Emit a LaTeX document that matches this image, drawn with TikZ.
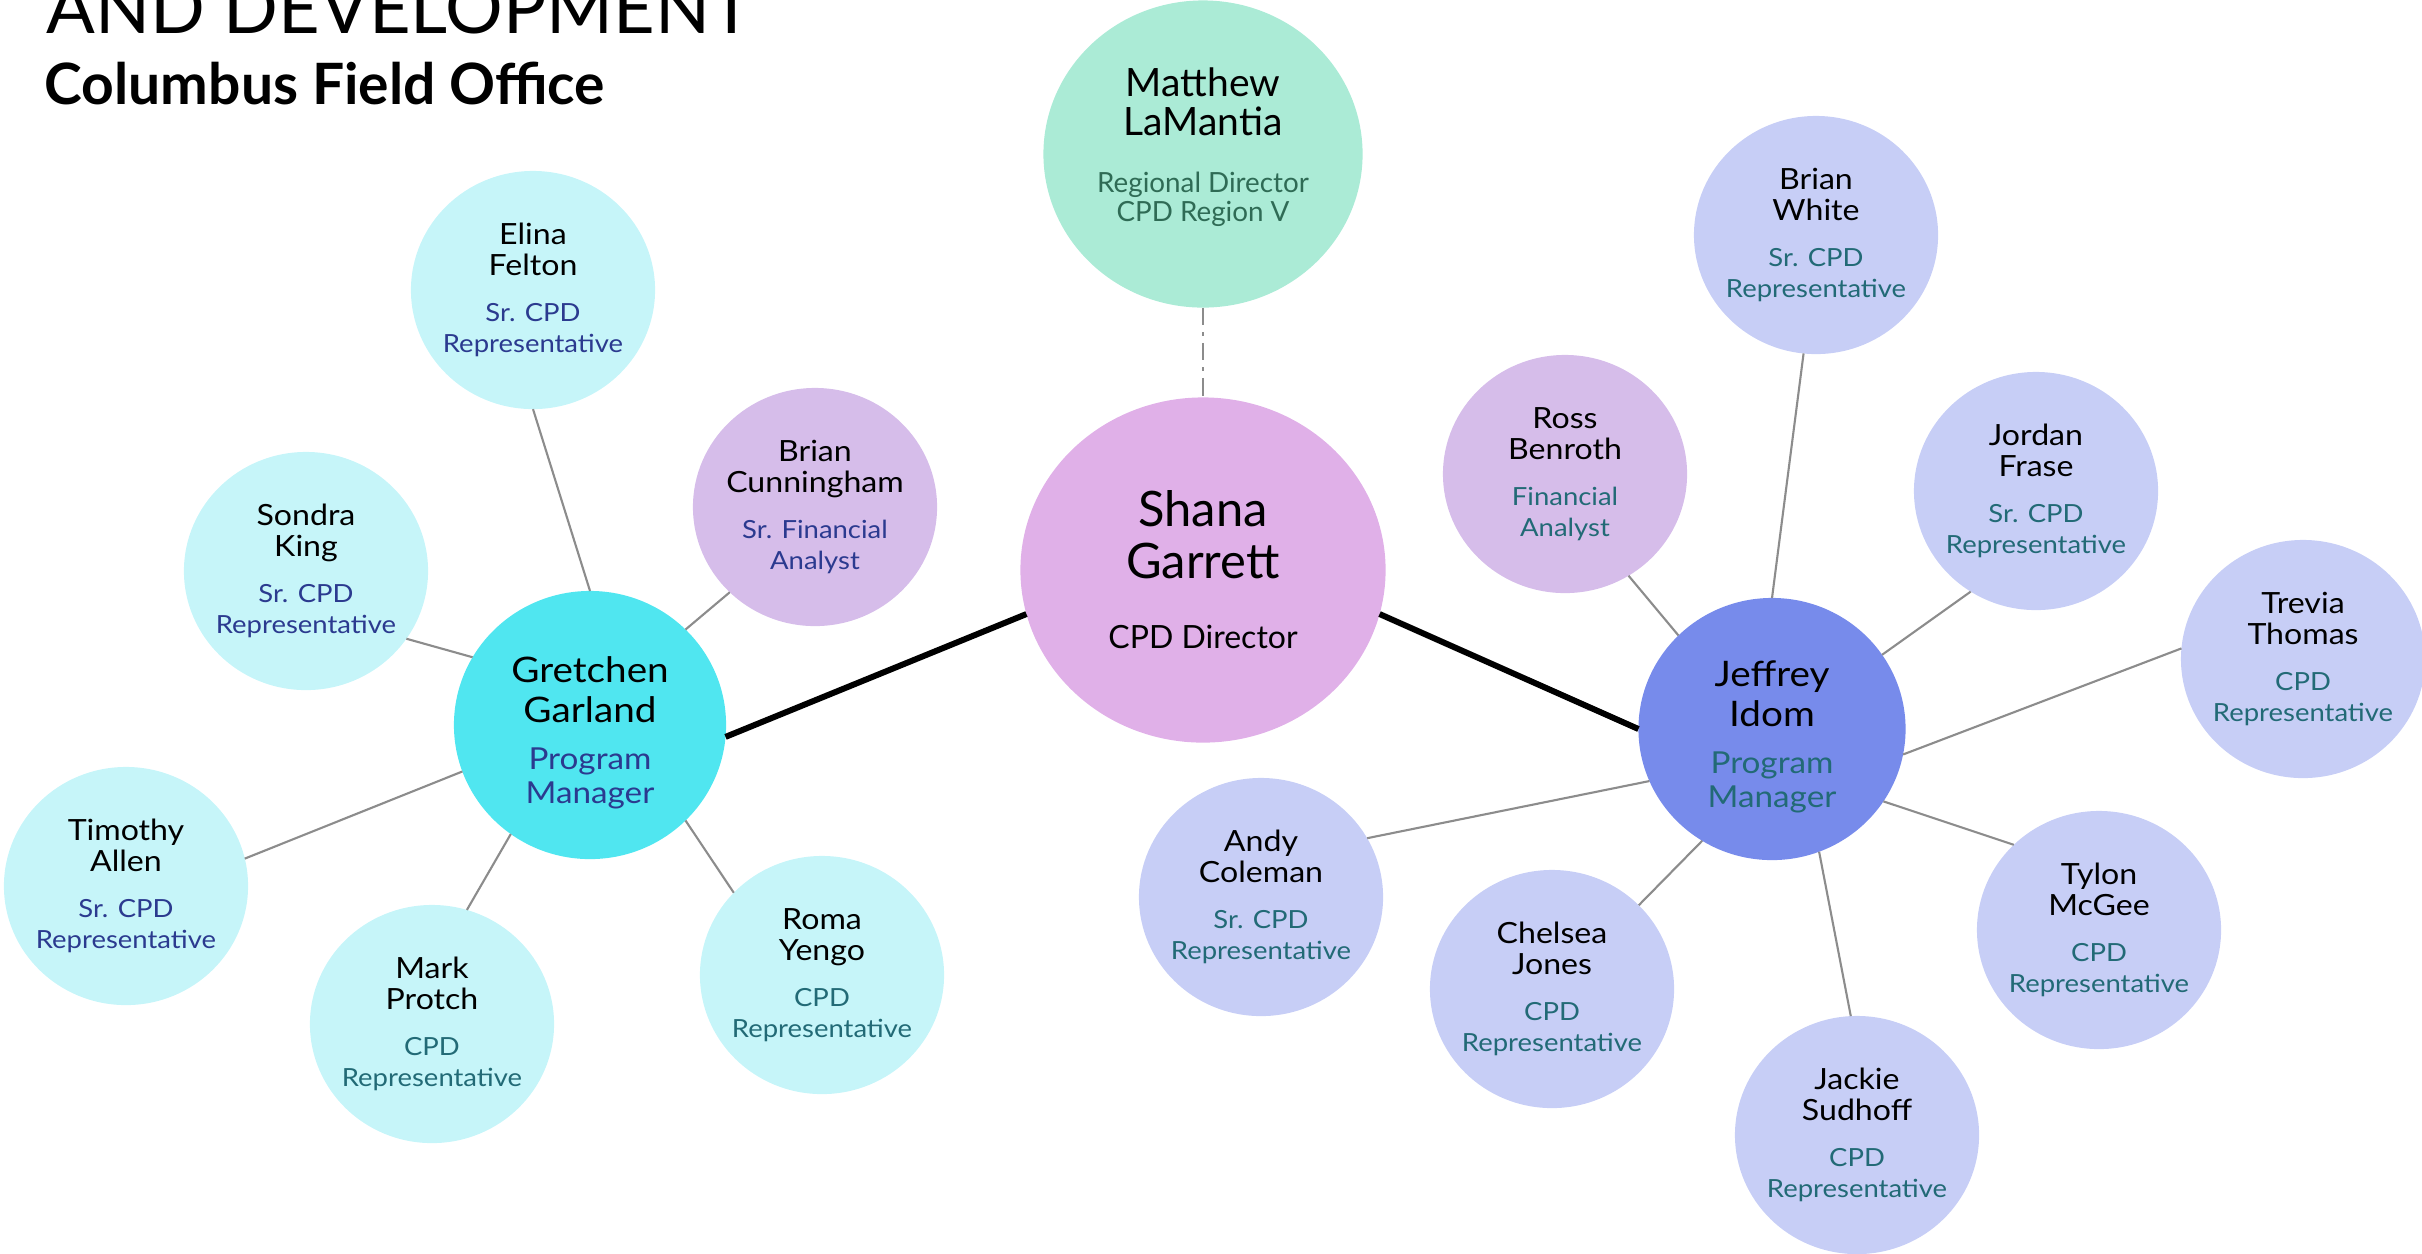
\documentclass[tikz,border=0pt]{standalone}
\usepackage{fontspec}
\setmainfont{Lato}
\newfontfamily\widefont{Lato}[FakeStretch=1.1]
\usetikzlibrary{shapes.geometric}

\definecolor{mint}{HTML}{ABEBD6}
\definecolor{orchid}{HTML}{E0B0E8}
\definecolor{aqua}{HTML}{50E6F0}
\definecolor{paleaqua}{HTML}{C6F5F9}
\definecolor{lavender}{HTML}{D6BDEA}
\definecolor{periwinkle}{HTML}{778BEB}
\definecolor{paleblue}{HTML}{C7CEF6}
\definecolor{navy}{HTML}{2B3A8F}
\definecolor{teal}{HTML}{226A76}
\definecolor{pine}{HTML}{2F6B55}
\definecolor{wire}{HTML}{8C8C8C}

\tikzstyle{person}=[ellipse, draw=none, inner sep=0pt, outer sep=0pt]
\tikzstyle{staff}=[person, minimum width=2.44cm, minimum height=2.38cm]
\tikzstyle{manager}=[person, minimum width=2.72cm, minimum height=2.68cm]
\tikzstyle{director}=[person, minimum width=3.65cm, minimum height=3.45cm]
\tikzstyle{regional}=[person, minimum width=3.19cm, minimum height=3.07cm]
\tikzstyle{link}=[draw=wire, line width=0.6pt]
\tikzstyle{bond}=[draw=black, line width=1.7pt]
\tikzstyle{dotlink}=[draw=wire, line width=0.6pt, dash pattern=on 5pt off 2pt on 1pt off 2pt]

% top pad, name size/skip, gap, role size/skip, role colour, name, role
\newcommand{\card}[9]{\makebox[0pt]{\parbox{4cm}{\vspace*{#1}\centering
  \fontsize{#2}{#3}\selectfont #8\par\vspace{#4}
  \color{#7}\fontsize{#5}{#6}\selectfont #9\par}}}
\newcommand{\staffcard}[3]{{\widefont\card{0pt}{8.3}{8.8}{4.2pt}{7.1}{8.8}{#2}{#1}{#3}}}
\newcommand{\managercard}[3]{{\widefont\card{4.6pt}{10}{11.4}{3.4pt}{8.6}{9.8}{#2}{#1}{#3}}}

\begin{document}
\begin{tikzpicture}[x=0.01cm, y=-0.01cm]
    \useasboundingbox (0,0) rectangle (2422,1253);

    % heading
    \node[anchor=base west, inner sep=0pt, font=\fontsize{20.5}{22}\selectfont] (heading) at (46,33) {AND DEVELOPMENT};
    \node[anchor=base west, inner sep=0pt, font=\fontsize{16.2}{17}\selectfont\bfseries] (office) at (44,104) {Columbus Field Office};

    % top of the chart
    \node[regional, fill=mint] (matthew) at (1203,154)
        {\card{-4pt}{11.1}{11.1}{7.9pt}{7.9}{8.3}{pine}{Matthew\\LaMantia}{Regional Director\\CPD Region V}};
    \node[director, fill=orchid] (shana) at (1203,570)
        {\card{0pt}{13.9}{14.8}{9.9pt}{9.1}{10}{black}{Shana\\Garrett}{CPD Director}};

    % program managers
    \node[manager, fill=aqua] (gretchen) at (590,725) {\managercard{Gretchen\\Garland}{navy}{Program\\Manager}};
    \node[manager, fill=periwinkle, minimum width=2.67cm, minimum height=2.62cm] (jeffrey) at (1772,729) {\managercard{Jeffrey\\Idom}{teal}{Program\\Manager}};

    % Gretchen's team
    \node[staff, fill=paleaqua] (elina) at (533,290) {\staffcard{Elina\\Felton}{navy}{Sr. CPD\\Representative}};
    \node[staff, fill=lavender] (brianc) at (815,507) {\staffcard{Brian\\Cunningham}{navy}{Sr. Financial\\Analyst}};
    \node[staff, fill=paleaqua] (sondra) at (306,571) {\staffcard{Sondra\\King}{navy}{Sr. CPD\\Representative}};
    \node[staff, fill=paleaqua] (timothy) at (126,886) {\staffcard{Timothy\\Allen}{navy}{Sr. CPD\\Representative}};
    \node[staff, fill=paleaqua] (mark) at (432,1024) {\staffcard{Mark\\Protch}{teal}{CPD\\Representative}};
    \node[staff, fill=paleaqua] (roma) at (822,975) {\staffcard{Roma\\Yengo}{teal}{CPD\\Representative}};

    % Jeffrey's team
    \node[staff, fill=lavender] (ross) at (1565,474) {\staffcard{Ross\\Benroth}{teal}{Financial\\Analyst}};
    \node[staff, fill=paleblue] (brianw) at (1816,235) {\staffcard{Brian\\White}{teal}{Sr. CPD\\Representative}};
    \node[staff, fill=paleblue] (jordan) at (2036,491) {\staffcard{Jordan\\Frase}{teal}{Sr. CPD\\Representative}};
    \node[staff, fill=paleblue] (trevia) at (2303,659) {\staffcard{Trevia\\Thomas}{teal}{CPD\\Representative}};
    \node[staff, fill=paleblue] (tylon) at (2099,930) {\staffcard{Tylon\\McGee}{teal}{CPD\\Representative}};
    \node[staff, fill=paleblue] (jackie) at (1857,1135) {\staffcard{Jackie\\Sudhoff}{teal}{CPD\\Representative}};
    \node[staff, fill=paleblue] (chelsea) at (1552,989) {\staffcard{Chelsea\\Jones}{teal}{CPD\\Representative}};
    \node[staff, fill=paleblue] (andy) at (1261,897) {\staffcard{Andy\\Coleman}{teal}{Sr. CPD\\Representative}};

    \path[dotlink] (matthew.270) -- (shana.90);
    \path[bond]
        (shana.194) edge (gretchen.-5)
        (shana.-14) edge (jeffrey.180)
    ;
    \path[link]
        (elina.270) edge (gretchen.90)
        (brianc.225) edge (gretchen.45)
        (sondra.-34) edge (gretchen.150)
        (timothy.13) edge (gretchen.200)
        (mark.73) edge (gretchen.234)
        (roma.137) edge (gretchen.315)
        (ross.302) edge (jeffrey.135)
        (brianw.264) edge (jeffrey.90)
        (jordan.237) edge (jeffrey.34)
        (trevia.175) edge (jeffrey.-11)
        (tylon.135) edge (jeffrey.-33)
        (jackie.93) edge (jeffrey.-69)
        (chelsea.44) edge (jeffrey.238)
        (andy.29) edge (jeffrey.203)
    ;
\end{tikzpicture}
\end{document}
